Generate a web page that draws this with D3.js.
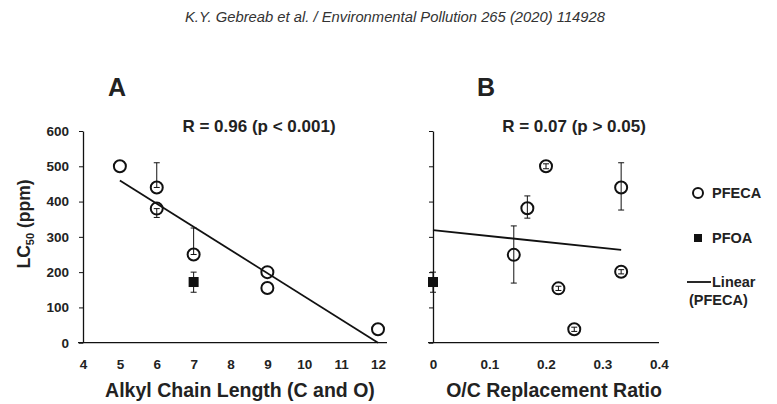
<!DOCTYPE html>
<html>
<head>
<meta charset="utf-8">
<script src="https://cdn.jsdelivr.net/npm/d3@7"></script>
<style>
  body { margin: 0; background: #fff; }
  text { font-family: "Liberation Sans", Arial, sans-serif; fill: #222; }
  .tick text { font-weight: bold; font-size: 13.5px; }
</style>
</head>
<body>
<div id="chart"></div>
<script>
// panel A: chain length vs LC50
const chainPfeca = [5, 6, 6, 7, 9, 9, 12];
const lcPfecaA = [500, 440, 380, 250, 200, 155, 38];
const errUpA = [null, 510, null, 325, null, null, null];
const errDownA = [null, null, 355, null, null, null, null];
const chainPfoa = [7];
const lcPfoa = [172];
const pfoaErr = [143, 200];
const fitA = [[5, 460], [12, 0]];

// panel B: O/C ratio vs LC50
const ratioPfeca = [0.2, 0.167, 0.333, 0.143, 0.222, 0.25, 0.333];
const lcPfecaB = [500, 381, 440, 249, 154, 38, 201];
const errLoB = [493, 353, 376, 169, 148, 32, 195];
const errHiB = [507, 416, 510, 331, 160, 44, 207];
const ratioPfoa = [0];
const fitB = [[0, 319], [0.333, 263]];

const xTicksA = [4, 5, 6, 7, 8, 9, 10, 11, 12];
const xTicksB = [0, 0.1, 0.2, 0.3, 0.4];
const yTicks = [0, 100, 200, 300, 400, 500, 600];

const svg = d3.select('#chart').append('svg')
  .attr('width', 777).attr('height', 404);

svg.append('text')
  .attr('x', 185).attr('y', 22)
  .attr('textLength', 420).attr('lengthAdjust', 'spacingAndGlyphs')
  .style('font-style', 'italic')
  .style('font-size', '15.5px')
  .style('fill', '#333')
  .text('K.Y. Gebreab et al. / Environmental Pollution 265 (2020) 114928');

const y = d3.scaleLinear().domain([0, 600]).range([342.7, 131]);
const xA = d3.scaleLinear().domain([4, 12]).range([83, 378]);
const xB = d3.scaleLinear().domain([0, 0.4]).range([433, 659]);

function panel(x, ticks, fmt, showYLabels, axisEnd) {
  const g = svg.append('g');
  const yAx = d3.axisLeft(y).tickValues(yTicks).tickSize(4).tickSizeOuter(0)
    .tickFormat(showYLabels ? d3.format('d') : '');
  g.append('g').attr('transform', `translate(${x.range()[0]},0)`).call(yAx)
    .call(a => a.selectAll('.tick text').attr('x', -14));
  const xAx = d3.axisBottom(x).tickValues(ticks).tickSize(0).tickFormat(fmt);
  g.append('g').attr('transform', `translate(0,${y(0)})`).call(xAx)
    .call(a => a.select('.domain').attr('d', `M${x.range()[0] - 5},0H${axisEnd}`))
    .call(a => a.selectAll('.tick text').attr('dy', '1.75em'));
  g.selectAll('.domain').attr('stroke', '#111').attr('stroke-width', 1.3);
  g.selectAll('.tick line').attr('stroke', '#111');
  return g;
}

const gA = panel(xA, xTicksA, d3.format('d'), true, 387);
const gB = panel(xB, xTicksB, d => d === 0 ? '0' : d3.format('.1f')(d), false, 659);

// fit lines
const line = (x) => d3.line().x(d => x(d[0])).y(d => y(d[1]));
gA.append('path').attr('d', line(xA)(fitA)).attr('fill', 'none')
  .attr('stroke', '#111').attr('stroke-width', 1.8);
gB.append('path').attr('d', line(xB)(fitB)).attr('fill', 'none')
  .attr('stroke', '#111').attr('stroke-width', 1.8);

function errBar(g, cx, lo, hi) {
  g.append('line').attr('x1', cx).attr('x2', cx).attr('y1', y(lo)).attr('y2', y(hi))
    .attr('stroke', '#111').attr('stroke-width', 1);
  [lo, hi].forEach(v => g.append('line').attr('x1', cx - 3).attr('x2', cx + 3)
    .attr('y1', y(v)).attr('y2', y(v)).attr('stroke', '#111').attr('stroke-width', 1));
}

// error bars
chainPfeca.forEach((c, i) => {
  if (errUpA[i] != null) errBar(gA, xA(c), lcPfecaA[i], errUpA[i]);
  if (errDownA[i] != null) errBar(gA, xA(c), errDownA[i], lcPfecaA[i]);
});
chainPfoa.forEach(c => errBar(gA, xA(c), pfoaErr[0], pfoaErr[1]));
ratioPfoa.forEach(c => errBar(gB, xB(c), pfoaErr[0], pfoaErr[1]));
ratioPfeca.forEach((r, i) => errBar(gB, xB(r), errLoB[i], errHiB[i]));

// points
function circles(g, x, xs, ys) {
  g.selectAll(null).data(xs).join('circle')
    .attr('cx', d => x(d)).attr('cy', (d, i) => y(ys[i])).attr('r', 6)
    .attr('fill', 'none').attr('stroke', '#111').attr('stroke-width', 2);
}
function squares(g, x, xs, ys) {
  g.selectAll(null).data(xs).join('rect')
    .attr('x', d => x(d) - 5).attr('y', (d, i) => y(ys[i]) - 5)
    .attr('width', 10).attr('height', 10).attr('fill', '#111');
}
circles(gA, xA, chainPfeca, lcPfecaA);
squares(gA, xA, chainPfoa, lcPfoa);
circles(gB, xB, ratioPfeca, lcPfecaB);
squares(gB, xB, ratioPfoa, lcPfoa);

// panel titles and stats
const bold = (sel, size) => sel.style('font-weight', 'bold').style('font-size', size + 'px');
bold(svg.append('text').attr('x', 117).attr('y', 96).attr('text-anchor', 'middle').text('A'), 25);
bold(svg.append('text').attr('x', 486).attr('y', 96).attr('text-anchor', 'middle').text('B'), 25);
bold(svg.append('text').attr('x', 259).attr('y', 132).attr('text-anchor', 'middle')
  .text('R = 0.96 (p < 0.001)'), 17);
bold(svg.append('text').attr('x', 574).attr('y', 132).attr('text-anchor', 'middle')
  .text('R = 0.07 (p > 0.05)'), 17);

// axis titles
bold(svg.append('text').attr('x', 240).attr('y', 397).attr('text-anchor', 'middle')
  .text('Alkyl Chain Length (C and O)'), 19.5);
bold(svg.append('text').attr('x', 554).attr('y', 397).attr('text-anchor', 'middle')
  .text('O/C Replacement Ratio'), 19.5);
const yl = svg.append('text').attr('transform', 'translate(30,224) rotate(-90)')
  .attr('text-anchor', 'middle');
bold(yl, 17.5);
yl.append('tspan').text('LC');
yl.append('tspan').attr('dy', 4).style('font-size', '11px').text('50');
yl.append('tspan').attr('dy', -4).text(' (ppm)');

// legend
const lg = svg.append('g');
lg.append('circle').attr('cx', 698).attr('cy', 193).attr('r', 5)
  .attr('fill', 'none').attr('stroke', '#111').attr('stroke-width', 2);
lg.append('rect').attr('x', 694).attr('y', 234).attr('width', 8).attr('height', 8).attr('fill', '#111');
lg.append('line').attr('x1', 687).attr('x2', 711).attr('y1', 282).attr('y2', 282)
  .attr('stroke', '#111').attr('stroke-width', 1.8);
bold(lg.append('text').attr('x', 712).attr('y', 198).text('PFECA'), 14.5);
bold(lg.append('text').attr('x', 712).attr('y', 243).text('PFOA'), 14.5);
bold(lg.append('text').attr('x', 712).attr('y', 287).text('Linear'), 14.5);
bold(lg.append('text').attr('x', 689).attr('y', 305).text('(PFECA)'), 14.5);
</script>
</body>
</html>
